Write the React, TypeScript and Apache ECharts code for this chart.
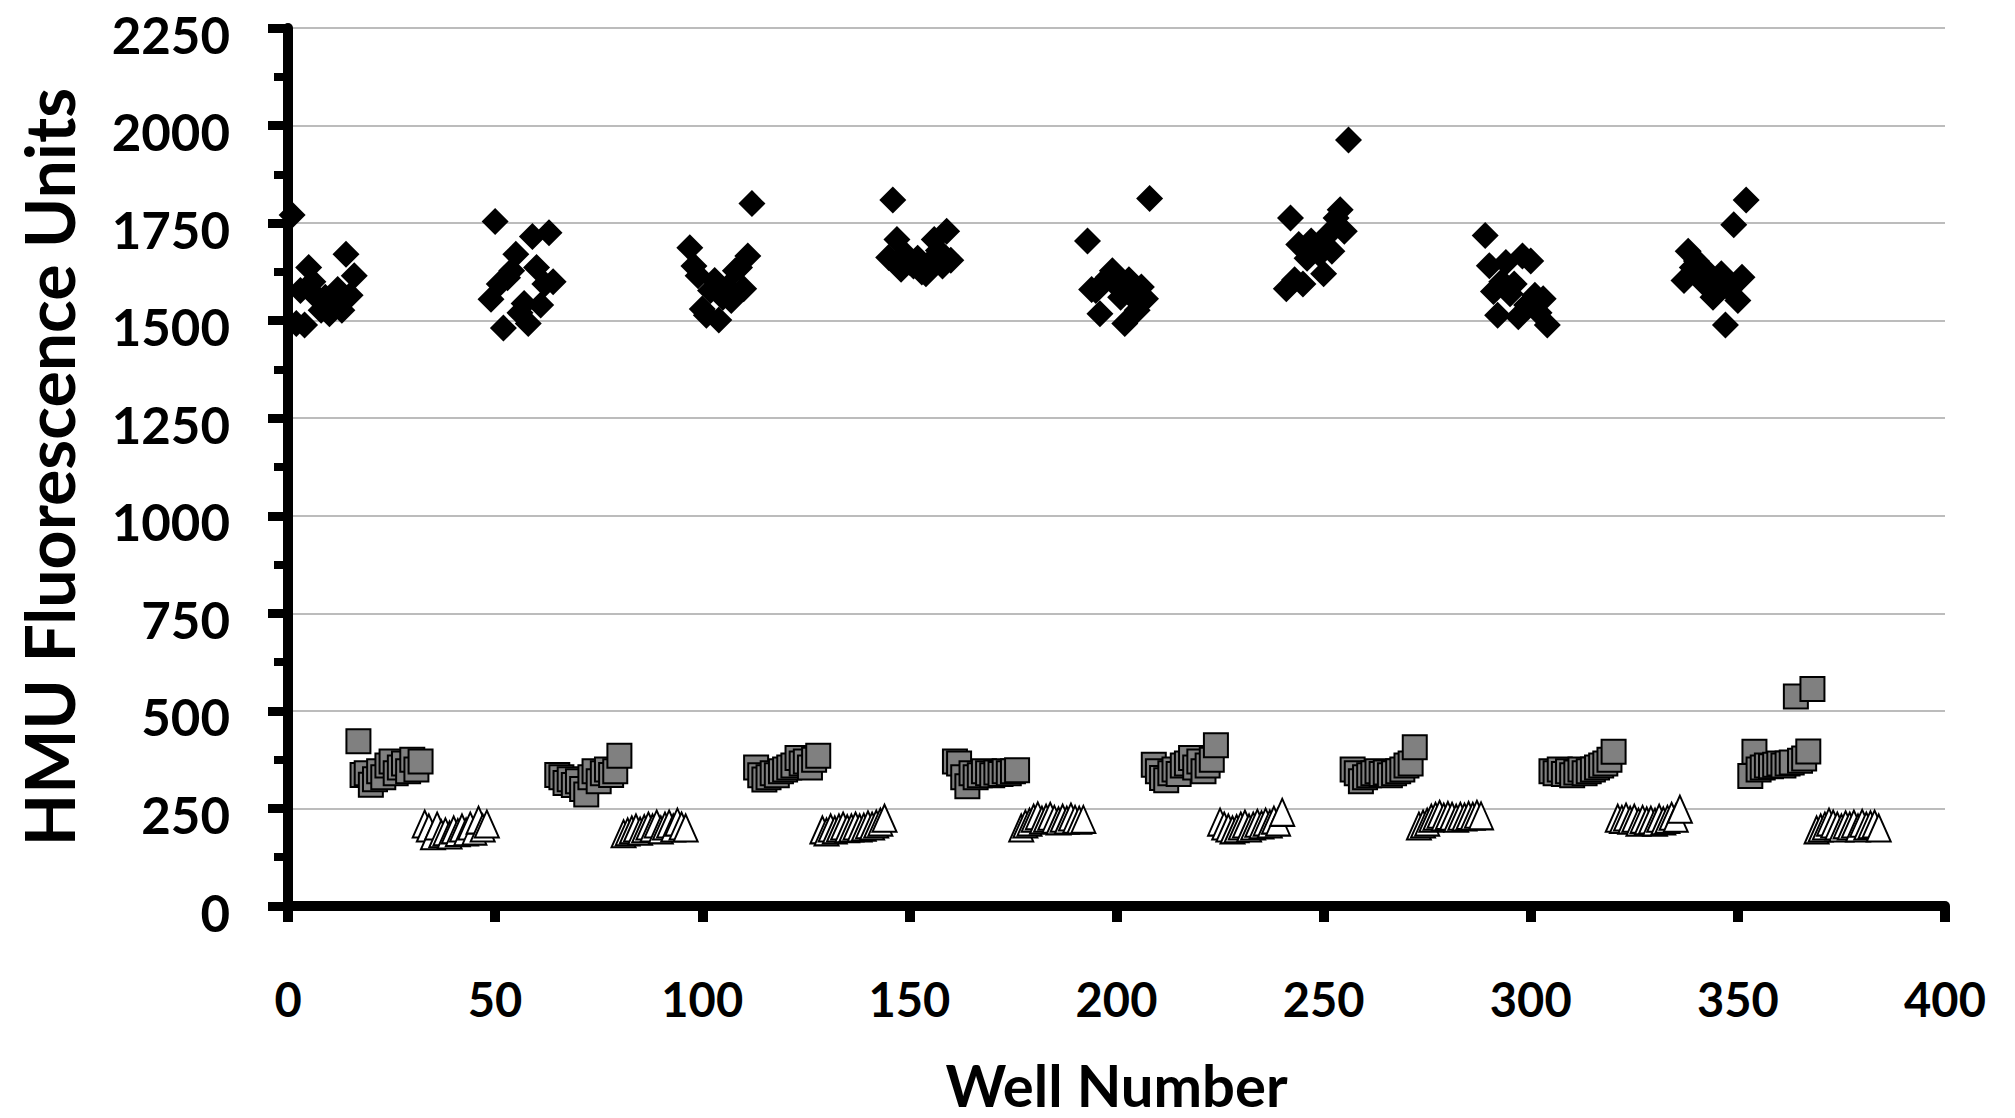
import React, { useEffect, useRef } from "react";
import * as echarts from "echarts";

// Well number at which each block of 16 wells starts
const diamondStarts = [1, 49, 97, 145, 193, 241, 289, 337];
const squareStarts = [17, 65, 113, 161, 209, 257, 305, 353];
const triangleStarts = [33, 81, 129, 177, 225, 273, 321, 369];

// HMU fluorescence readings, 16 wells per block
const diamondBlocks = [
  [1771, 1493, 1577, 1489, 1636, 1600, 1560, 1527, 1560, 1518, 1545, 1580, 1527, 1670, 1565, 1615],
  [1555, 1754, 1594, 1481, 1610, 1628, 1670, 1520, 1544, 1493, 1716, 1636, 1540, 1594, 1725, 1600],
  [1687, 1640, 1615, 1530, 1514, 1577, 1603, 1502, 1560, 1585, 1552, 1628, 1636, 1582, 1666, 1800],
  [1662, 1809, 1708, 1632, 1670, 1650, 1640, 1660, 1625, 1620, 1650, 1708, 1680, 1640, 1729, 1655],
  [1704, 1580, 1577, 1518, 1600, 1611, 1628, 1590, 1560, 1493, 1605, 1560, 1527, 1586, 1556, 1813],
  [1582, 1763, 1605, 1695, 1594, 1660, 1704, 1690, 1670, 1620, 1720, 1678, 1763, 1784, 1729, 1963],
  [1718, 1641, 1575, 1514, 1600, 1649, 1569, 1594, 1510, 1666, 1540, 1653, 1565, 1520, 1556, 1489],
  [1603, 1678, 1636, 1653, 1610, 1594, 1620, 1560, 1600, 1620, 1489, 1580, 1746, 1552, 1611, 1809],
];

const squareBlocks = [
  [422, 336, 340, 311, 325, 345, 330, 360, 370, 340, 355, 365, 345, 375, 350, 370],
  [336, 330, 315, 325, 310, 320, 300, 286, 330, 345, 320, 340, 350, 336, 345, 385],
  [355, 335, 324, 330, 340, 335, 345, 350, 355, 360, 379, 365, 370, 355, 375, 385],
  [370, 365, 330, 307, 340, 330, 335, 345, 340, 335, 342, 338, 345, 340, 345, 348],
  [362, 345, 328, 322, 340, 350, 338, 360, 365, 379, 355, 370, 345, 360, 375, 412],
  [350, 340, 320, 330, 335, 340, 345, 338, 342, 335, 340, 345, 350, 360, 365, 407],
  [345, 340, 350, 338, 345, 335, 342, 350, 340, 345, 350, 355, 360, 365, 375, 395],
  [333, 395, 350, 355, 360, 358, 362, 365, 360, 365, 368, 537, 372, 378, 396, 556],
];

const triangleBlocks = [
  [210, 200, 180, 205, 185, 190, 182, 195, 188, 200, 190, 205, 192, 220, 200, 210],
  [185, 190, 195, 200, 192, 198, 205, 200, 210, 195, 205, 210, 200, 215, 205, 200],
  [195, 190, 200, 195, 200, 205, 198, 200, 205, 200, 202, 208, 205, 210, 215, 225],
  [200, 210, 215, 225, 231, 220, 225, 230, 222, 218, 225, 220, 228, 222, 220, 222],
  [215, 205, 200, 195, 198, 205, 210, 200, 205, 212, 208, 215, 210, 220, 215, 240],
  [205, 210, 215, 225, 230, 235, 228, 232, 230, 225, 230, 228, 232, 230, 235, 231],
  [225, 222, 228, 220, 225, 215, 222, 218, 220, 215, 225, 218, 222, 230, 225, 248],
  [195, 200, 205, 215, 210, 205, 200, 208, 205, 210, 200, 212, 205, 208, 210, 200],
];

const xTickValues = [0, 50, 100, 150, 200, 250, 300, 350, 400];
const yTickValues = [0, 250, 500, 750, 1000, 1250, 1500, 1750, 2000, 2250];

const xTitle = "Well Number";
const yTitle = "HMU Fluorescence Units";

function toPoints(starts: number[], blocks: number[][]): number[][] {
  const pts: number[][] = [];
  blocks.forEach((block, b) => {
    block.forEach((v, i) => pts.push([starts[b] + i, v]));
  });
  return pts;
}

const FONT = "Lato";

export default function App() {
  const ref = useRef<HTMLDivElement>(null);

  useEffect(() => {
    if (!ref.current) return;
    const chart = echarts.init(ref.current, null, { renderer: "svg" });
    const xInterval = xTickValues[1] - xTickValues[0];
    const yInterval = yTickValues[1] - yTickValues[0];
    chart.setOption({
      animation: false,
      backgroundColor: "#ffffff",
      grid: { left: 288, right: 70, top: 28, bottom: 201 },
      xAxis: {
        type: "value",
        min: xTickValues[0],
        max: xTickValues[xTickValues.length - 1],
        interval: xInterval,
        name: xTitle,
        nameLocation: "middle",
        nameGap: 149,
        nameTextStyle: { fontFamily: FONT, fontWeight: "bold", fontSize: 58, color: "#000" },
        axisLine: { show: true, onZero: false, lineStyle: { color: "#000", width: 10 } },
        axisTick: { show: true, length: 16, lineStyle: { color: "#000", width: 10 } },
        axisLabel: {
          margin: 93,
          verticalAlign: "middle",
          fontFamily: FONT,
          fontWeight: "bold",
          fontSize: 47,
          lineHeight: 40,
          color: "#000",
          formatter: (v: number) => String(v),
        },
        splitLine: { show: false },
      },
      yAxis: {
        type: "value",
        min: yTickValues[0],
        max: yTickValues[yTickValues.length - 1],
        interval: yInterval,
        name: yTitle,
        nameLocation: "middle",
        nameGap: 206,
        nameTextStyle: { fontFamily: FONT, fontWeight: "bold", fontSize: 68, color: "#000" },
        axisLine: { show: true, lineStyle: { color: "#000", width: 10 } },
        axisTick: { show: true, length: 20, lineStyle: { color: "#000", width: 9 } },
        minorTick: { show: true, splitNumber: 2, length: 14, lineStyle: { color: "#000", width: 8 } },
        axisLabel: {
          margin: 58,
          verticalAlign: "top",
          fontFamily: FONT,
          fontWeight: "bold",
          fontSize: 51,
          lineHeight: 12,
          color: "#000",
          formatter: (v: number) => String(v),
        },
        splitLine: { show: true, lineStyle: { color: "#a6a6a6", width: 1.5 } },
      },
      series: [
        {
          name: "Diamonds",
          type: "scatter",
          symbol: "diamond",
          symbolSize: 27,
          itemStyle: { color: "#000000", opacity: 1 },
          data: toPoints(diamondStarts, diamondBlocks),
        },
        {
          name: "Squares",
          type: "scatter",
          symbol: "rect",
          symbolSize: 24,
          itemStyle: { color: "#808080", borderColor: "#000", borderWidth: 2, opacity: 1 },
          data: toPoints(squareStarts, squareBlocks),
        },
        {
          name: "Triangles",
          type: "scatter",
          symbol: "triangle",
          symbolSize: [24, 27],
          itemStyle: { color: "#ffffff", borderColor: "#000", borderWidth: 2, opacity: 1 },
          data: toPoints(triangleStarts, triangleBlocks),
        },
      ],
    });
    return () => chart.dispose();
  }, []);

  return (
    <div
      ref={ref}
      style={{ position: "fixed", left: 0, top: 0, width: 2015, height: 1118, background: "#fff" }}
    />
  );
}
